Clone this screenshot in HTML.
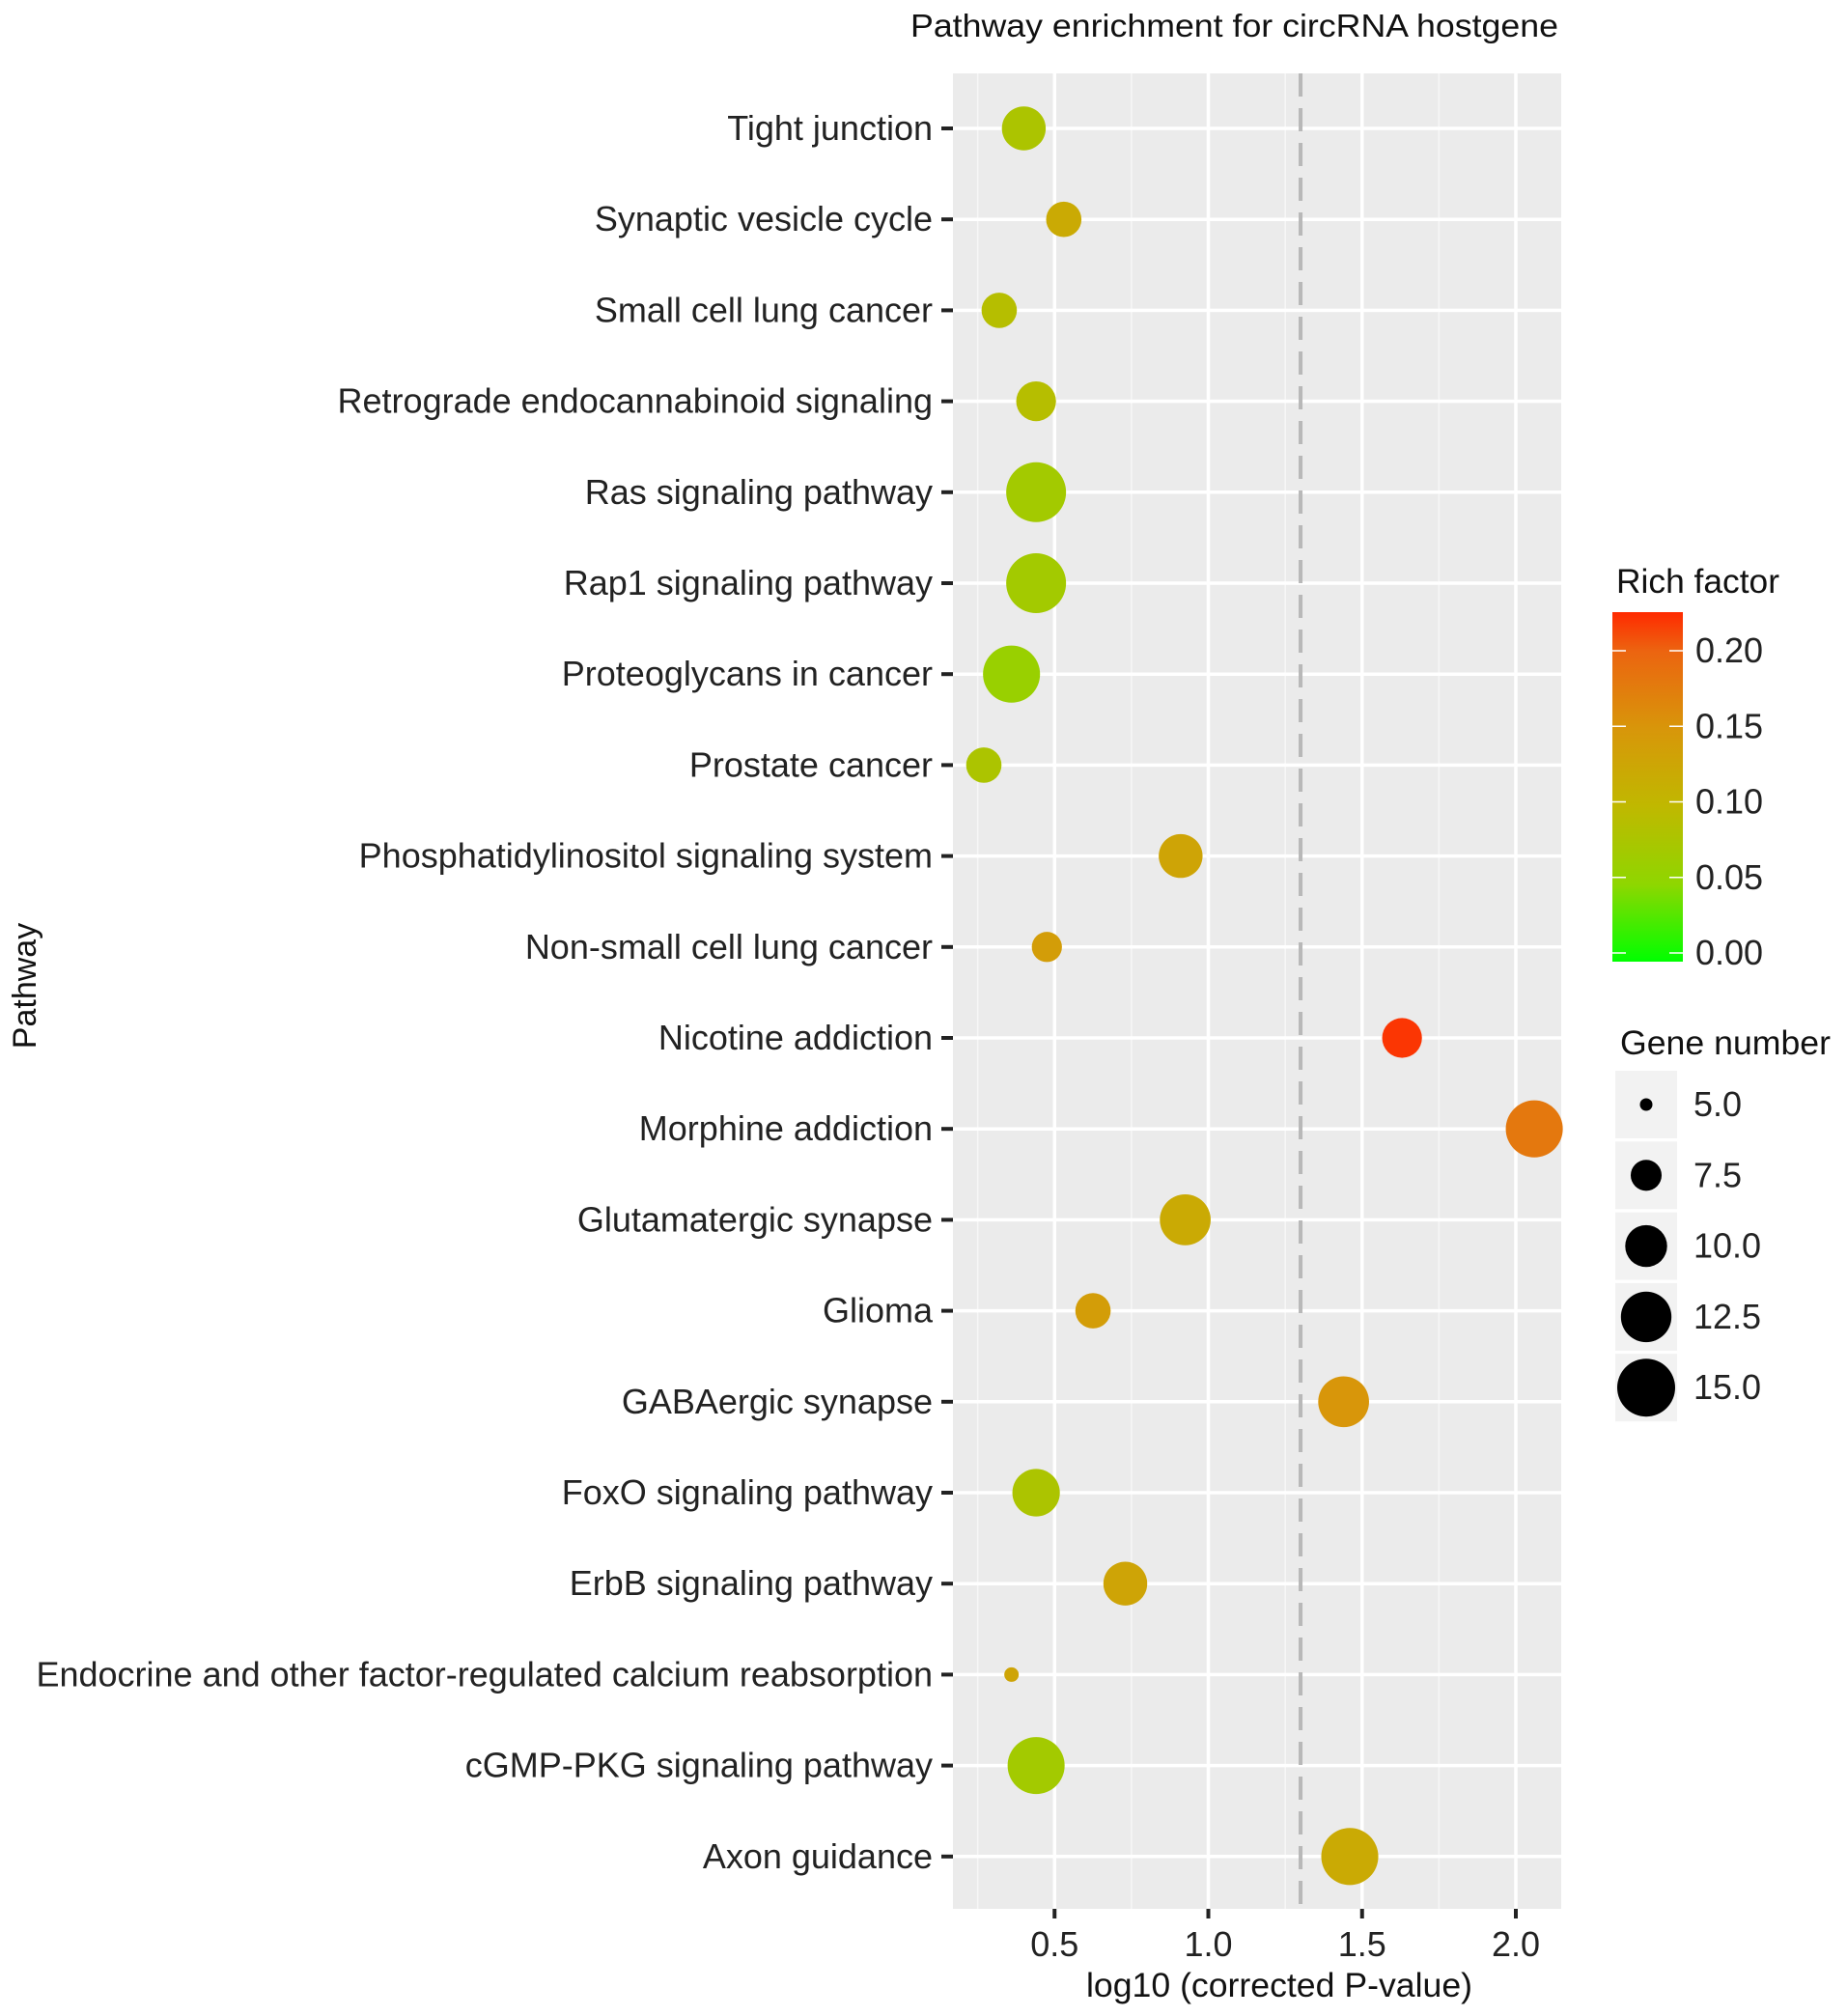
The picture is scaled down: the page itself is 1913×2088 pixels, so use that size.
<!DOCTYPE html>
<html><head><meta charset="utf-8"><style>
html,body{margin:0;padding:0;background:#fff;}
svg{display:block;font-family:"Liberation Sans",Arial,sans-serif;}
</style></head><body>
<svg id="chart" width="1913" height="2088" viewBox="0 0 1913 2088" xmlns="http://www.w3.org/2000/svg">
<defs>
<linearGradient id="cbar" x1="0" y1="1" x2="0" y2="0">
<stop offset="0" stop-color="#00ff00"/>
<stop offset="0.222" stop-color="#8fd600"/>
<stop offset="0.444" stop-color="#c0b800"/>
<stop offset="0.667" stop-color="#d8960a"/>
<stop offset="0.889" stop-color="#ec6410"/>
<stop offset="1" stop-color="#ff2a00"/>
</linearGradient>
</defs>
<text x="943" y="38" font-size="33" fill="#111" textLength="671" lengthAdjust="spacingAndGlyphs">Pathway enrichment for circRNA hostgene</text>
<rect x="987" y="76" width="630" height="1901" fill="#ebebeb"/>
<g id="grid"></g>
<g id="marks"></g>
<g id="axes"></g>
<text x="1325" y="2068" font-size="35" text-anchor="middle" fill="#111" textLength="400" lengthAdjust="spacingAndGlyphs">log10 (corrected P-value)</text>
<text transform="translate(37,1021) rotate(-90)" font-size="34" text-anchor="middle" fill="#111">Pathway</text>
<g>
<text x="1674" y="614" font-size="35" fill="#111" textLength="169" lengthAdjust="spacingAndGlyphs">Rich factor</text>
<rect x="1670" y="634" width="73" height="362" fill="url(#cbar)"/>
<g id="cbticks"></g>
</g>
<g>
<text x="1678" y="1092" font-size="35" fill="#111" textLength="218" lengthAdjust="spacingAndGlyphs">Gene number</text>
<g id="sizelegend"></g>
</g>
</svg>
<script>
const categories = ["Tight junction","Synaptic vesicle cycle","Small cell lung cancer","Retrograde endocannabinoid signaling","Ras signaling pathway","Rap1 signaling pathway","Proteoglycans in cancer","Prostate cancer","Phosphatidylinositol signaling system","Non-small cell lung cancer","Nicotine addiction","Morphine addiction","Glutamatergic synapse","Glioma","GABAergic synapse","FoxO signaling pathway","ErbB signaling pathway","Endocrine and other factor-regulated calcium reabsorption","cGMP-PKG signaling pathway","Axon guidance"];
const logP = [0.40,0.53,0.32,0.44,0.44,0.44,0.36,0.27,0.91,0.475,1.63,2.06,0.925,0.625,1.44,0.44,0.73,0.36,0.44,1.46];
const geneNumber = [10,8,8,9,15,15,14,8,10,7,9,14,12,8,12,11,10,5,14,14];
const richFactor = [0.08,0.12,0.09,0.09,0.07,0.07,0.06,0.08,0.13,0.14,0.22,0.18,0.12,0.14,0.15,0.08,0.13,0.13,0.07,0.12];
const xTicks = [0.5,1.0,1.5,2.0];
const xTickLabels = ["0.5","1.0","1.5","2.0"];
const xMinor = [0.25,0.75,1.25,1.75];
const threshold = 1.30;
const colorTicks = [0,0.05,0.10,0.15,0.20];
const colorTickLabels = ["0.00","0.05","0.10","0.15","0.20"];
const sizeBreaks = [5,7.5,10,12.5,15];
const sizeLabels = ["5.0","7.5","10.0","12.5","15.0"];

const NS="http://www.w3.org/2000/svg";
const PL=987,PR=1617,PT=76,PB=1977;
function xScale(v){return 933+v*318.5;}
function yScale(i){return 133+i*94.2;}
function diam(n){return Math.sqrt(169+343*(n-5));}
function cbY(v){return 987-v*1565;}
const stops=[[0,[0,255,0]],[0.05,[143,214,0]],[0.10,[192,184,0]],[0.15,[216,150,10]],[0.20,[236,100,16]],[0.225,[255,42,0]]];
function colorOf(v){
  for(let i=1;i<stops.length;i++){
    if(v<=stops[i][0]){const a=stops[i-1],b=stops[i];const t=(v-a[0])/(b[0]-a[0]);
      const c=a[1].map((x,k)=>Math.round(x+(b[1][k]-x)*t));return `rgb(${c})`;}
  }
  return "rgb(255,42,0)";
}
function mk(tag,attrs,parent,text){const e=document.createElementNS(NS,tag);for(const k in attrs)e.setAttribute(k,attrs[k]);if(text!==undefined)e.textContent=text;parent.appendChild(e);return e;}

const grid=document.getElementById('grid'),marks=document.getElementById('marks'),axes=document.getElementById('axes');
xMinor.forEach(v=>{const l=mk('line',{x1:xScale(v),x2:xScale(v),y1:PT,y2:PB,stroke:'#f7f7f7','stroke-width':1.5},grid);

});
xTicks.forEach(v=>{const l=mk('line',{x1:xScale(v),x2:xScale(v),y1:PT,y2:PB,stroke:'#fff','stroke-width':3.5},grid);

});
categories.forEach((c,i)=>{const l=mk('line',{x1:PL,x2:PR,y1:yScale(i),y2:yScale(i),stroke:'#fff','stroke-width':3.5},grid);

});
const dl=mk('line',{x1:xScale(threshold),x2:xScale(threshold),y1:PT,y2:PB,stroke:'#b8b8b8','stroke-width':4,'stroke-dasharray':'24,12'},grid);



categories.forEach((c,i)=>{
  const d=diam(geneNumber[i]);
  const p=mk('circle',{cx:xScale(logP[i]),cy:yScale(i),r:d/2+1,fill:colorOf(richFactor[i])},marks);
  
  
  const t=mk('text',{x:966,y:yScale(i)+12,'font-size':36,'text-anchor':'end',fill:'#222'},axes,c);
  
  
  const tk=mk('line',{x1:975,x2:987,y1:yScale(i),y2:yScale(i),stroke:'#222','stroke-width':4},axes);
  
  
});
xTicks.forEach((v,i)=>{
  const tk=mk('line',{x1:xScale(v),x2:xScale(v),y1:PB,y2:PB+10,stroke:'#222','stroke-width':4},axes);
  
  
  const t=mk('text',{x:xScale(v),y:2026,'font-size':36,'text-anchor':'middle',fill:'#222'},axes,xTickLabels[i]);
  
  
});
const cb=document.getElementById('cbticks');
colorTicks.forEach((v,i)=>{
  const y=cbY(v);
  const a=mk('line',{x1:1670,x2:1684,y1:y,y2:y,stroke:'#fff','stroke-width':1.5},cb);
  
  
  const b=mk('line',{x1:1729,x2:1743,y1:y,y2:y,stroke:'#fff','stroke-width':1.5},cb);
  
  
  const t=mk('text',{x:1756,y:y+12,'font-size':36,fill:'#222'},cb,colorTickLabels[i]);
  
  
});
const sl=document.getElementById('sizelegend');
sizeBreaks.forEach((n,i)=>{
  const cy=1144+i*73.3;
  const r=mk('rect',{x:1673,y:cy-35,width:64,height:70,fill:'#f2f2f2'},sl);
  
  
  const c=mk('circle',{cx:1705,cy:cy,r:diam(n)/2,fill:'#000'},sl);
  
  
  const t=mk('text',{x:1754,y:cy+12,'font-size':36,fill:'#222'},sl,sizeLabels[i]);
  
  
});
</script>
</body></html>
